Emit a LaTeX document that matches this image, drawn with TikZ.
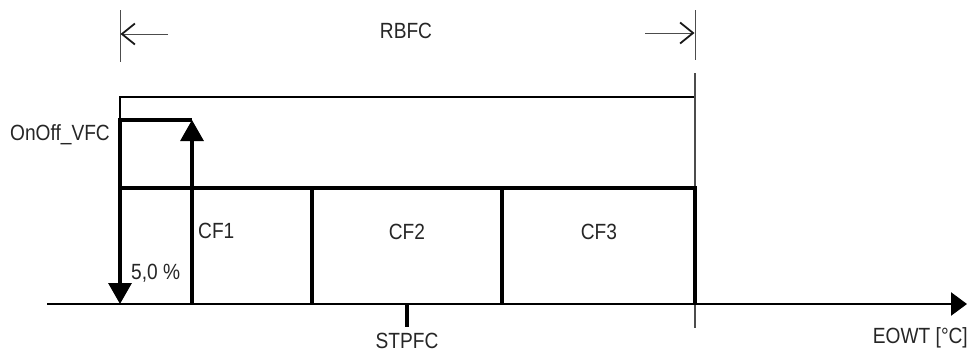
\documentclass[tikz,border=0pt]{standalone}
\usepackage{fontspec}
\setmainfont{Liberation Sans}[FakeStretch=0.87]
\usetikzlibrary{arrows.meta}
\begin{document}
\begin{tikzpicture}[x=1pt,y=-1pt,
  txt/.style={inner sep=0pt,text=black!85,font=\fontsize{22}{26}\selectfont},
  thickln/.style={line width=3.2pt,black},
  thinln/.style={line width=1.4pt,black},
  dimln/.style={line width=1pt,black!70},
  dimarrow/.style={dimln,-{Straight Barb[length=13pt,width=21pt,line width=1.8pt,black!90]}},
  bigtip/.style={-{Triangle[length=21pt,width=23pt]}},
]
\useasboundingbox (0,0) rectangle (971,354);
% key coordinates
\coordinate (x0) at (120,304);
\coordinate (x1) at (192,304);
\coordinate (x2) at (312,304);
\coordinate (x3) at (502,304);
\coordinate (x4) at (695,304);
\coordinate (axL) at (47,304);
\coordinate (axR) at (967,304);
\coordinate (t0) at (120,188);
\coordinate (t1) at (192,188);
\coordinate (t2) at (312,188);
\coordinate (t3) at (502,188);
\coordinate (t4) at (695,188);
\coordinate (onL) at (120,120);
\coordinate (onR) at (192,120);
\coordinate (topL) at (120,97);
\coordinate (topR) at (695,97);
\coordinate (rtop) at (695,73);
\coordinate (rbot) at (695,328);
\coordinate (stp) at (407,304);
\coordinate (stpb) at (407,327);
% dimension lines
\coordinate (dLt) at (120,10);
\coordinate (dLb) at (120,62);
\coordinate (dRt) at (695,10);
\coordinate (dRb) at (695,60);
\coordinate (aLs) at (168,34);
\coordinate (aLe) at (120.5,34);
\coordinate (aRs) at (645,33);
\coordinate (aRe) at (694.5,33);
\draw[dimln] (dLt) -- (dLb);
\draw[dimln] (dRt) -- (dRb);
\draw[dimarrow] (aLs) -- (aLe);
\draw[dimarrow] (aRs) -- (aRe);
% thin frame
\draw[thinln] (onL) -- (topL) -- (topR);
\draw[dimln,line width=1.2pt] (rtop) -- (rbot);
% boxes
\draw[thickln] (t0) -- (t4) -- (x4);
\draw[thickln] (t2) -- (x2);
\draw[thickln] (t3) -- (x3);
% axis
\draw[line width=2.6pt,-{Triangle[length=16pt,width=23pt]}] (axL) -- (axR);
% OnOff step
\draw[thickln,bigtip,line join=miter] (onR) -- (onL) -- (x0);
\draw[thickln,bigtip] (x1) -- (onR);
% STPFC tick
\draw[line width=4pt] (stp) -- (stpb);
% labels
\node[txt,anchor=base] (rbfc) at (406,38) {RBFC};
\node[txt,anchor=base east] (onoff) at (110,140) {OnOff\_VFC};
\node[txt,anchor=base west] (cf1) at (198,238) {CF1};
\node[txt,anchor=base west] (pct) at (131,279) {5,0 \%};
\node[txt,anchor=base] (cf2) at (407,239) {CF2};
\node[txt,anchor=base] (cf3) at (599,239) {CF3};
\node[txt,anchor=base] (stpfc) at (407,348) {STPFC};
\node[txt,anchor=base east] (eowt) at (968,343) {EOWT [°C]};
\end{tikzpicture}
\end{document}
